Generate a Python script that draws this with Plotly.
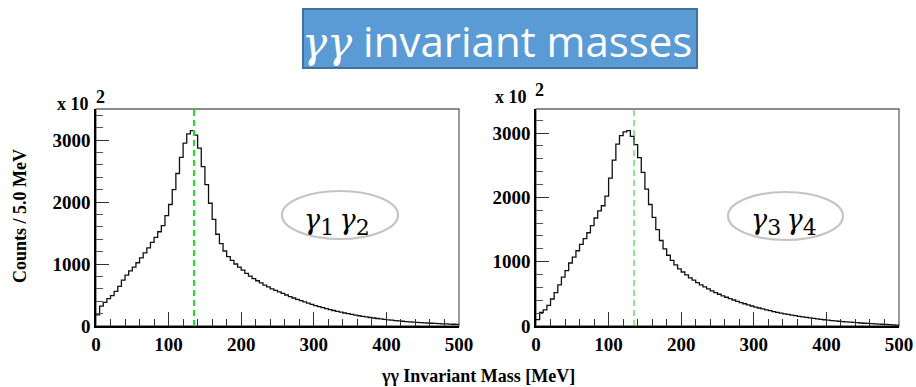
import plotly.graph_objects as go

W, H = 916, 387

bin_width = 5.0
n_bins = 100
bin_edges = [i * bin_width for i in range(n_bins + 1)]

counts_g1g2 = [
    180, 320, 380, 440, 490, 560, 640, 740, 820, 890,
    950, 1020, 1100, 1180, 1260, 1350, 1430, 1520, 1620, 1780,
    1960, 2200, 2460, 2720, 2950, 3100, 3150, 3080, 2870, 2570,
    2280, 1980, 1720, 1480, 1330, 1210, 1120, 1060, 1000, 950,
    900, 850, 805, 765, 730, 695, 660, 630, 600, 575,
    550, 525, 500, 475, 452, 430, 408, 388, 368, 348,
    330, 312, 295, 280, 265, 250, 236, 223, 210, 198,
    186, 175, 165, 155, 146, 137, 129, 121, 114, 107,
    100, 94, 88, 82, 77, 72, 67, 63, 59, 55,
    51, 48, 44, 41, 38, 35, 33, 30, 28, 26,
]

counts_g3g4 = [
    100, 210, 250, 320, 420, 520, 640, 760, 860, 980,
    1070, 1170, 1270, 1360, 1450, 1560, 1680, 1790, 1870, 2020,
    2300, 2580, 2830, 2960, 3020, 3040, 2950, 2820, 2620, 2390,
    2130, 1890, 1690, 1500, 1330, 1200, 1100, 1020, 950, 890,
    840, 795, 750, 712, 675, 640, 607, 576, 547, 520,
    494, 470, 447, 425, 404, 384, 364, 346, 328, 311,
    295, 280, 265, 251, 238, 225, 213, 201, 190, 180,
    170, 160, 151, 142, 134, 126, 118, 111, 104, 97,
    91, 85, 79, 74, 69, 64, 59, 55, 51, 47,
    43, 40, 36, 33, 30, 27, 24, 21, 18, 15,
]

pi0_mass = 135.0
x_range = [0, 500]
y_range_left = [0, 3500]
y_range_right = [0, 3375]

title_text = "<span style='font-family:DejaVu Serif'><i>γγ</i></span> invariant masses"
x_title = "γγ Invariant Mass [MeV]"
y_title = "Counts / 5.0 MeV"


def gamma_pair(a, b):
    sub = "<sub><span style='font-size:22px'>{}</span></sub>"
    return "<i>γ</i>" + sub.format(a) + "\u2009<i>γ</i>" + sub.format(b)


label_left = gamma_pair(1, 2)
label_right = gamma_pair(3, 4)


def px(x):
    return x / W


def py(y):
    return 1 - y / H


fig = go.Figure()

for counts, xa, ya in [(counts_g1g2, "x", "y"), (counts_g3g4, "x2", "y2")]:
    fig.add_trace(go.Scatter(
        x=bin_edges, y=counts + [counts[-1]],
        mode="lines", line=dict(color="#111111", width=1.3, shape="hv"),
        xaxis=xa, yaxis=ya, showlegend=False, hoverinfo="skip"))

tickfont = dict(family="Liberation Serif", size=19, color="black", weight="bold")

common_x = dict(range=x_range, dtick=100, tick0=0, ticks="inside", ticklen=14,
                tickwidth=1.2, tickcolor="#333", showgrid=False, zeroline=False,
                showline=True, linecolor="black", linewidth=1.5, automargin=False,
                tickfont=tickfont,
                minor=dict(dtick=20, ticks="inside", ticklen=7, tickcolor="#333", showgrid=False))
common_y = dict(dtick=1000, tick0=0, ticks="inside", ticklen=13, tickwidth=1.2,
                tickcolor="#333", showgrid=False, zeroline=False,
                showline=True, linecolor="black", linewidth=1.5, automargin=False,
                tickfont=tickfont,
                minor=dict(dtick=200, ticks="inside", ticklen=7, tickcolor="#555", showgrid=False))

fig.update_layout(
    template="none",
    width=W, height=H, margin=dict(l=0, r=0, t=0, b=0, autoexpand=False),
    paper_bgcolor="white", plot_bgcolor="white",
    xaxis=dict(domain=[px(96), px(459)], anchor="y", **common_x),
    yaxis=dict(domain=[py(326), py(109)], anchor="x", range=y_range_left, **common_y),
    xaxis2=dict(domain=[px(536), px(899)], anchor="y2", **common_x),
    yaxis2=dict(domain=[py(326), py(109)], anchor="x2", range=y_range_right, **common_y),
)

shapes = []
for xr, yr in [("x domain", "y domain"), ("x2 domain", "y2 domain")]:
    shapes.append(dict(type="rect", xref=xr, yref=yr, x0=0, x1=1, y0=0, y1=1,
                       line=dict(color="#666", width=1.3), layer="below"))
shapes.append(dict(type="line", xref="x", yref="y domain", x0=pi0_mass, x1=pi0_mass, y0=0, y1=1,
                   line=dict(color="#22dd22", width=2, dash="6px,4px")))
shapes.append(dict(type="line", xref="x2", yref="y2 domain", x0=pi0_mass, x1=pi0_mass, y0=0, y1=1,
                   line=dict(color="#22cc22", width=1, dash="6px,4px")))
shapes.append(dict(type="circle", xref="paper", yref="paper",
                   x0=px(282), x1=px(398), y0=py(239), y1=py(191),
                   line=dict(color="#c4c4c4", width=2.2)))
shapes.append(dict(type="circle", xref="paper", yref="paper",
                   x0=px(728), x1=px(843), y0=py(240), y1=py(192),
                   line=dict(color="#c4c4c4", width=2.2)))
shapes.append(dict(type="rect", xref="paper", yref="paper",
                   x0=px(303), x1=px(697), y0=py(68), y1=py(9),
                   fillcolor="#5B9BD5", line=dict(color="#41719C", width=2)))
fig.update_layout(shapes=shapes)

ann_font = dict(family="Liberation Serif", size=18, color="black", weight="bold")


def ann(text, x, y, font, xanchor="center", yanchor="middle", **kw):
    return dict(text=text, x=px(x), y=py(y), xref="paper", yref="paper",
                xanchor=xanchor, yanchor=yanchor, showarrow=False, font=font, **kw)


annotations = [
    ann(title_text, 497, 40, dict(family="Open Sans", size=42, color="white")),
    ann(x_title, 478, 376, dict(family="Liberation Serif", size=18, color="black", weight="bold")),
    ann(y_title, 20, 216, dict(family="Liberation Serif", size=18, color="black", weight="bold"),
        textangle=-90),
    ann("x 10", 91, 104, ann_font, xanchor="right"),
    ann("2", 94, 97, ann_font, xanchor="left"),
    ann("x 10", 529, 97, ann_font, xanchor="right"),
    ann("2", 533, 90, ann_font, xanchor="left"),
    ann(label_left, 337, 222, dict(family="DejaVu Serif", size=27, color="black")),
    ann(label_right, 784, 222, dict(family="DejaVu Serif", size=27, color="black")),
]
fig.update_layout(annotations=annotations)

fig.write_html("out.html")
